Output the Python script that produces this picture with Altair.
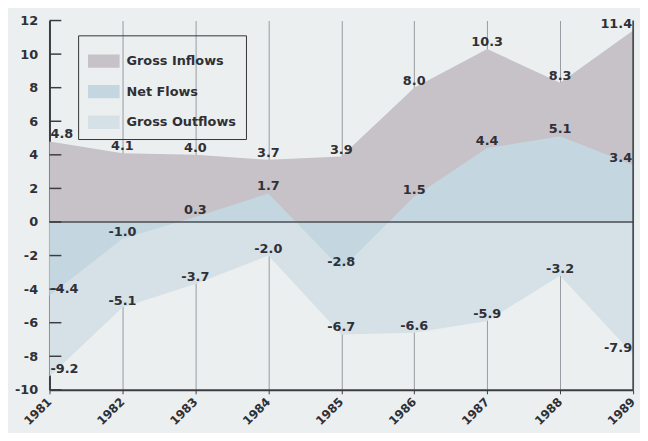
import altair as alt
import pandas as pd

years = [1981, 1982, 1983, 1984, 1985, 1986, 1987, 1988, 1989]
gross_inflows = [4.8, 4.1, 4.0, 3.7, 3.9, 8.0, 10.3, 8.3, 11.4]
net_flows = [-4.4, -1.0, 0.3, 1.7, -2.8, 1.5, 4.4, 5.1, 3.4]
gross_outflows = [-9.2, -5.1, -3.7, -2.0, -6.7, -6.6, -5.9, -3.2, -7.9]
y_ticks = list(range(-10, 13, 2))

series = ["Gross Inflows", "Net Flows", "Gross Outflows"]
colors = ["#c6c2c7", "#c4d6df", "#d6e1e7"]

long = pd.DataFrame({
    "year": years * 3,
    "value": gross_inflows + net_flows + gross_outflows,
    "series": [series[0]] * 9 + [series[1]] * 9 + [series[2]] * 9,
    "label": [f"{v:.1f}" for v in gross_inflows + net_flows + gross_outflows],
})
ticks_df = pd.DataFrame({"v": y_ticks})
zero_df = pd.DataFrame({"v": [0]})
edge_df = pd.DataFrame({"year": [1989], "lo": [-10], "hi": [12]})

FONT = "DejaVu Sans"
TXT = "#2f3036"

xscale = alt.Scale(domain=[1981, 1989], nice=False, zero=False)
yscale = alt.Scale(domain=[-10, 12], nice=False)
color_scale = alt.Scale(domain=series, range=colors)

x_axis = alt.Axis(values=years, format="d", title=None, grid=True, gridColor="#959ba1",
                  gridWidth=1, domainColor="#3a3c42", domainWidth=2, tickColor="#3a3c42",
                  tickSize=4, labelAngle=315, labelAlign="right", labelBaseline="top",
                  labelPadding=2, labelOffset=-4, labelOverlap=False, labelFont=FONT,
                  labelFontWeight="bold", labelFontSize=12, labelColor=TXT)
y_axis = alt.Axis(values=y_ticks, title=None, grid=False, domainColor="#3a3c42", domainWidth=2,
                  ticks=False, labelPadding=12, labelOverlap=False, labelExpr="toString(datum.value)",
                  labelFont=FONT, labelFontWeight="bold", labelFontSize=13, labelColor=TXT)

legend = alt.Legend(orient="none", legendX=29, legendY=15, title=None,
                    symbolType="M-1,-0.42H1V0.42H-1Z", symbolSize=1024, symbolStrokeWidth=0,
                    symbolOpacity=1, strokeColor="#333", padding=10, rowPadding=8, labelOffset=7,
                    labelFont=FONT, labelFontWeight="bold", labelFontSize=13, labelColor=TXT)

base = alt.Chart(long)
X = alt.X("year:Q", scale=xscale, axis=x_axis)
Y = alt.Y("value:Q", scale=yscale, axis=y_axis)


def area(name):
    return base.mark_area(opacity=1).encode(
        x=X,
        y=Y,
        y2=alt.datum(0),
        color=alt.Color("series:N", scale=color_scale, legend=legend),
    ).transform_filter(alt.datum.series == name)


inflow = area("Gross Inflows")
outflow = area("Gross Outflows")
net = area("Net Flows")

zero_rule = alt.Chart(zero_df).mark_rule(color="#4a4d55", strokeWidth=1.5).encode(
    y=alt.Y("v:Q", scale=yscale, axis=y_axis))
right_rule = alt.Chart(edge_df).mark_rule(color="#3a3c42", strokeWidth=1.5).encode(
    x=alt.X("year:Q", scale=xscale, axis=x_axis),
    y=alt.Y("lo:Q", scale=yscale, axis=y_axis), y2="hi:Q")
inner_ticks = alt.Chart(ticks_df).mark_rule(color="#3a3c42", strokeWidth=1.5).encode(
    y=alt.Y("v:Q", scale=yscale, axis=y_axis), x=alt.value(0), x2=alt.value(12))

text_props = dict(font=FONT, fontWeight="bold", fontSize=13, color=TXT, baseline="middle", dy=-7)
tbase = base.encode(x=X, y=Y, text="label:N")
t_first = tbase.mark_text(align="left", dx=1, **text_props).transform_filter("datum.year == 1981")
t_mid = tbase.mark_text(align="center", **text_props).transform_filter("datum.year > 1981 && datum.year < 1989")
t_last = tbase.mark_text(align="right", dx=-1, **text_props).transform_filter("datum.year == 1989")

chart = alt.layer(inflow, outflow, net, zero_rule, right_rule, inner_ticks, t_first, t_mid, t_last).properties(
    width=591, height=374,
    autosize=alt.AutoSizeParams(type="none"),
    padding={"left": 42, "top": 10, "right": 7, "bottom": 41},
    background="#eceff0",
).configure_view(stroke=None).configure_axisY(labelOverlap=False, labelBound=False, labelFlush=False)

chart.save("out.html", embed_options={"renderer": "svg", "actions": False})
